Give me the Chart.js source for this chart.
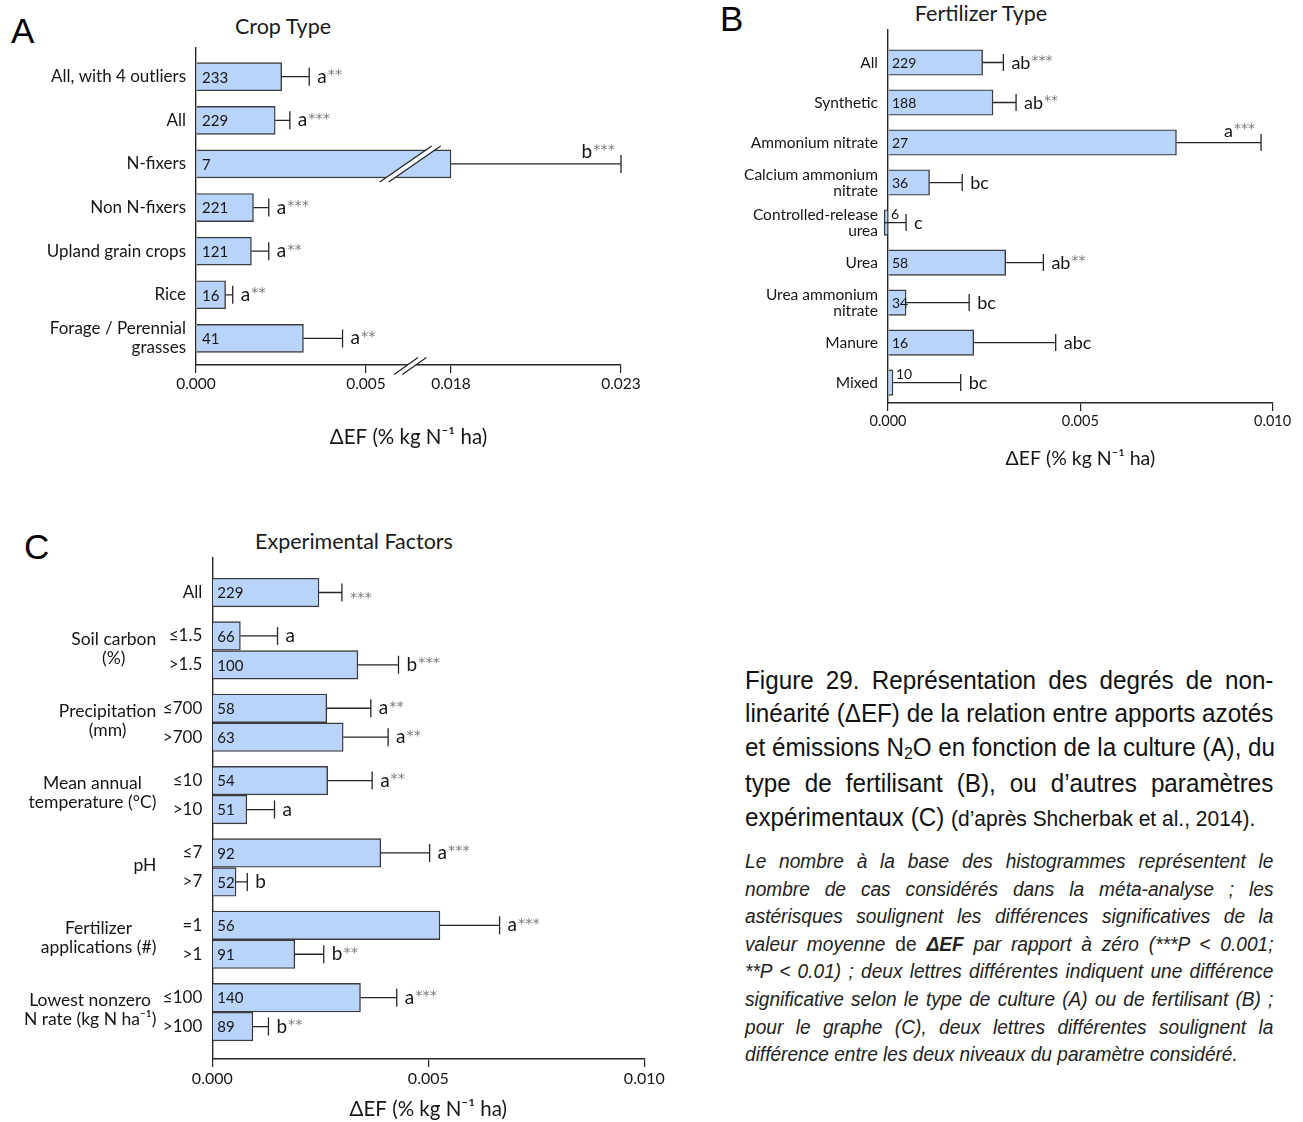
<!DOCTYPE html>
<html lang="fr">
<head>
<meta charset="utf-8">
<title>ΔEF par type de culture, de fertilisant et facteurs expérimentaux</title>
<script src="https://cdn.jsdelivr.net/npm/chart.js@4.4.1/dist/chart.umd.min.js"></script>
<style>
  html, body { margin: 0; padding: 0; background: #fff; }
  body { position: relative; width: 1303px; height: 1122px; overflow: hidden; color: #1a1a1a; font-family: Lato, sans-serif; }
  canvas { position: absolute; }
  .panel { position: absolute; font-family: 'Liberation Sans', Arial, sans-serif; font-size: 35px; line-height: 1; color: #000; }
  .ptitle { position: absolute; font-family: Lato, sans-serif; font-size: 21.5px; line-height: 1; white-space: nowrap; transform: translateX(-50%); color: #1a1a1a; }
  /* condensed caption: Arial metrics squeezed to a narrower cut */
  .caption { position: absolute; left: 745px; width: 567px; transform: scaleX(0.932); transform-origin: 0 0; color: #111; font-family: 'Liberation Sans', Arial, sans-serif; }
  .caption .j { text-align: justify; text-align-last: justify; white-space: nowrap; }
  .caption .l { text-align: left; white-space: nowrap; }
  #cap1 { top: 664px; font-size: 26px; line-height: 33.4px; }
  #cap2 { top: 847px; font-size: 20.5px; line-height: 27.6px; font-style: italic; color: #222; }
  .small { font-size: 22.5px; }
  .sub { font-size: 17px; position: relative; top: 3px; }
</style>
</head>
<body>

<div class="panel" style="left:11px;top:13px">A</div>
<div class="panel" style="left:720px;top:1px">B</div>
<div class="panel" style="left:24px;top:529px">C</div>

<div class="ptitle" style="left:283px;top:16px">Crop Type</div>
<div class="ptitle" style="left:981px;top:3px">Fertilizer Type</div>
<div class="ptitle" style="left:354px;top:531px">Experimental Factors</div>

<canvas id="cropChart" width="650" height="460" style="left:0;top:0"></canvas>
<canvas id="fertChart" width="603" height="480" style="left:700px;top:0"></canvas>
<canvas id="factorChart" width="680" height="602" style="left:0;top:520px"></canvas>

<div class="caption" id="cap1">
  <div class="j">Figure 29. Représentation des degrés de non-</div>
  <div class="j">linéarité (ΔEF) de la relation entre apports azotés</div>
  <div class="j">et émissions N<span class="sub">2</span>O en fonction de la culture (A), du</div>
  <div class="j">type de fertilisant (B), ou d’autres paramètres</div>
  <div class="l">expérimentaux (C) <span class="small">(d’après Shcherbak et al., 2014).</span></div>
</div>
<div class="caption" id="cap2">
  <div class="j">Le nombre à la base des histogrammes représentent le</div>
  <div class="j">nombre de cas considérés dans la méta-analyse ; les</div>
  <div class="j">astérisques soulignent les différences significatives de la</div>
  <div class="j">valeur moyenne <span style="font-style:normal">de</span> <b>ΔEF</b> par rapport à zéro (***P &lt; 0.001;</div>
  <div class="j">**P &lt; 0.01) ; deux lettres différentes indiquent une différence</div>
  <div class="j">significative selon le type de culture (A) ou de fertilisant (B) ;</div>
  <div class="j">pour le graphe (C), deux lettres différentes soulignent la</div>
  <div class="l">différence entre les deux niveaux du paramètre considéré.</div>
</div>

<script>
// ---------- A: crop type ----------
const cropLabels = [['All, with 4 outliers'], ['All'], ['N-fixers'], ['Non N-fixers'], ['Upland grain crops'], ['Rice'], ['Forage / Perennial', 'grasses']];
const cropMean   = [0.00252, 0.00233, 0.018, 0.00169, 0.00163, 0.00087, 0.00316];
const cropUpper  = [0.00333, 0.00276, 0.023, 0.00214, 0.00214, 0.00108, 0.00431];
const cropN      = [233, 229, 7, 221, 121, 16, 41];
const cropLetters = ['a', 'a', 'b', 'a', 'a', 'a', 'a'];
const cropStars   = ['**', '***', '***', '***', '**', '**', '**'];
const cropTicks   = [0, 0.005, 0.018, 0.023];
// broken axis: values up to cropBreakLow are drawn to scale, the stretch
// between cropBreakLow and cropBreakHigh is cut out
const cropBreakLow  = 0.0075;
const cropBreakHigh = 0.018;

// ---------- B: fertilizer type ----------
const fertLabels = [['All'], ['Synthetic'], ['Ammonium nitrate'], ['Calcium ammonium', 'nitrate'], ['Controlled-release', 'urea'], ['Urea'], ['Urea ammonium', 'nitrate'], ['Manure'], ['Mixed']];
const fertMean   = [0.00246, 0.00273, 0.0075, 0.00108, -0.0001, 0.00306, 0.00047, 0.00223, 0.00013];
const fertUpper  = [0.00300, 0.00333, 0.0097, 0.00193, 0.00047, 0.00404, 0.00211, 0.00436, 0.00189];
const fertN      = [229, 188, 27, 36, 6, 58, 34, 16, 10];
const fertLetters = ['ab', 'ab', 'a', 'bc', 'c', 'ab', 'bc', 'abc', 'bc'];
const fertStars   = ['***', '**', '***', '', '', '**', '', '', ''];
const fertTicks   = [0, 0.005, 0.010];

// ---------- C: experimental factors ----------
const factorGroups = [[], ['Soil carbon', '(%)'], ['Precipitation', '(mm)'], ['Mean annual', 'temperature (°C)'], ['pH'], ['Fertilizer', 'applications (#)'], ['Lowest nonzero', 'N rate (kg N ha⁻¹)']];
const factorLevels = ['All', '≤1.5', '>1.5', '≤700', '>700', '≤10', '>10', '≤7', '>7', '=1', '>1', '≤100', '>100'];
const factorGroupOf = [0, 1, 1, 2, 2, 3, 3, 4, 4, 5, 5, 6, 6];
const factorMean  = [0.00247, 0.00065, 0.00337, 0.00265, 0.00303, 0.00267, 0.00080, 0.00390, 0.00055, 0.00527, 0.00191, 0.00343, 0.00094];
const factorUpper = [0.00300, 0.00151, 0.00431, 0.00367, 0.00407, 0.00370, 0.00144, 0.00503, 0.00081, 0.00665, 0.00258, 0.00427, 0.00130];
const factorN     = [229, 66, 100, 58, 63, 54, 51, 92, 52, 56, 91, 140, 89];
const factorLetters = ['', 'a', 'b', 'a', 'a', 'a', 'a', 'a', 'b', 'a', 'b', 'a', 'b'];
const factorStars   = ['***', '', '***', '**', '**', '**', '', '***', '', '***', '**', '***', '**'];
const factorTicks   = [0, 0.005, 0.010];

// ---------- shared styling ----------
const FONT = 'Lato, sans-serif';
const STAR_FONT = '"DejaVu Sans", sans-serif';
const INK = '#161616';
const STAR = '#7a7a7a';
const AXIS = '#262626';
const BAR_FILL = '#b9d4fb';
const BAR_EDGE = '#3c3c3c';
const AXIS_TITLE = 'ΔEF (% kg N⁻¹ ha)';

function drawTag(ctx, xu, yc, letter, stars, limit, o) {
  const lf = o.letterSize + 'px ' + FONT, sf = o.starSize + 'px ' + STAR_FONT;
  ctx.font = lf; const lw = letter ? ctx.measureText(letter).width : 0;
  ctx.font = sf; const sw = stars ? ctx.measureText(stars).width : 0;
  const gap = letter && stars ? 1 : 0;
  let x = xu + 8, base = yc + 6;
  if (x + lw + gap + sw > limit) { x = xu - 6 - (lw + gap + sw); base = yc - 6; }
  ctx.textAlign = 'left';
  ctx.textBaseline = 'alphabetic';
  if (letter) { ctx.font = lf; ctx.fillStyle = INK; ctx.fillText(letter, x, base); }
  if (stars) { ctx.font = sf; ctx.fillStyle = STAR; ctx.fillText(stars, x + lw + gap, letter ? base - 3.5 : base + 3); }
}

// error whiskers, sample sizes and significance letters
const marks = o => ({
  id: 'marks',
  afterDatasetsDraw(chart) {
    const ctx = chart.ctx, xs = chart.scales.x;
    const toScale = o.toScale || (v => v);
    const x0 = xs.getPixelForValue(0);
    chart.getDatasetMeta(0).data.forEach((bar, i) => {
      const yc = bar.y, xm = bar.x;
      const xu = xs.getPixelForValue(toScale(o.upper[i]));
      ctx.save();
      ctx.strokeStyle = AXIS; ctx.lineWidth = 1.3;
      ctx.beginPath();
      ctx.moveTo(xm, yc); ctx.lineTo(xu, yc);
      ctx.moveTo(xu, yc - o.cap); ctx.lineTo(xu, yc + o.cap);
      ctx.stroke();
      // number of cases, at the base of the bar (above it when the bar is too short)
      ctx.font = o.nSize + 'px ' + FONT; ctx.fillStyle = INK;
      ctx.textAlign = 'left'; ctx.textBaseline = 'middle';
      const t = String(o.n[i]);
      if (xm - x0 >= 12) ctx.fillText(t, x0 + o.nInset, yc + 1);
      else ctx.fillText(t, Math.max(xm, x0) + 3, yc - 8);
      drawTag(ctx, xu, yc, o.letters[i], o.stars[i], chart.chartArea.right + 15, o);
      ctx.restore();
    });
  }
});

function hbar(id, o) {
  const cv = document.getElementById(id);
  const W = cv.width, H = cv.height;
  const toScale = o.toScale || (v => v);
  return new Chart(cv, {
    type: 'bar',
    data: {
      datasets: [{
        data: o.mean.map((m, i) => ({ x: toScale(m), y: o.pos[i] })),
        backgroundColor: BAR_FILL,
        borderColor: BAR_EDGE,
        borderWidth: 1.4,
        borderSkipped: 'start',
        barThickness: o.barThickness,
        clip: false
      }]
    },
    options: {
      indexAxis: 'y',
      responsive: false,
      animation: false,
      events: [],
      layout: { padding: { top: o.area.top, right: W - o.area.right, left: 0, bottom: 0 } },
      plugins: { legend: { display: false }, tooltip: { enabled: false }, title: { display: false } },
      scales: {
        x: {
          type: 'linear',
          min: 0,
          max: toScale(o.xTicks[o.xTicks.length - 1]),
          offset: false,
          afterBuildTicks: s => { s.ticks = o.xTicks.map(v => ({ value: toScale(v) })); },
          afterFit: s => { s.height = H - o.area.bottom; },
          ticks: {
            callback: (v, i) => o.xTicks[i].toFixed(3),
            font: { family: FONT, size: o.xTickSize }, color: INK,
            padding: o.xTickPad, maxRotation: 0, autoSkip: false
          },
          grid: { display: true, drawOnChartArea: false, drawTicks: true, tickLength: 8, color: AXIS, lineWidth: 1.2, offset: false },
          border: { display: true, color: AXIS, width: 1.4 },
          title: {
            display: true, text: AXIS_TITLE, color: INK,
            font: { family: FONT, size: o.titleSize, lineHeight: 1.2 },
            padding: { top: 0, bottom: o.titlePad }
          }
        },
        y: {
          type: 'linear',
          reverse: true,
          offset: false,
          min: o.yMin,
          max: o.yMax,
          afterBuildTicks: s => { s.ticks = o.pos.map(p => ({ value: p })); },
          afterFit: s => { s.width = o.area.left; },
          ticks: {
            callback: (v, i) => o.labels[i],
            font: { family: FONT, size: o.yTickSize, lineHeight: o.yLineHeight }, color: INK,
            padding: 10, autoSkip: false
          },
          grid: { display: false, drawTicks: false, offset: false },
          border: { display: true, color: AXIS, width: 1.4 }
        }
      }
    },
    plugins: [marks(o)].concat(o.extra || [])
  });
}

// ---------- A ----------
const cropToScale = v => (v >= cropBreakHigh ? v - (cropBreakHigh - cropBreakLow) : v);
const cropBreakMark = 0.0063; // where the break slashes sit on the drawn scale

const cropBreaks = {
  id: 'cropBreaks',
  afterDraw(chart) {
    const ctx = chart.ctx, xs = chart.scales.x, area = chart.chartArea;
    const xb = xs.getPixelForValue(cropBreakMark);
    const slash = (yc, hx, hy, sep) => {
      ctx.fillStyle = '#fff';
      ctx.beginPath();
      ctx.moveTo(xb - sep - hx, yc + hy); ctx.lineTo(xb - sep + hx, yc - hy);
      ctx.lineTo(xb + sep + hx, yc - hy); ctx.lineTo(xb + sep - hx, yc + hy);
      ctx.closePath(); ctx.fill();
      ctx.strokeStyle = AXIS; ctx.lineWidth = 1.3;
      ctx.beginPath();
      ctx.moveTo(xb - sep - hx, yc + hy); ctx.lineTo(xb - sep + hx, yc - hy);
      ctx.moveTo(xb + sep - hx, yc + hy); ctx.lineTo(xb + sep + hx, yc - hy);
      ctx.stroke();
    };
    ctx.save();
    slash(area.bottom + 1, 12, 8.5, 4.2);
    chart.getDatasetMeta(0).data.forEach((bar, i) => {
      if (cropMean[i] > cropBreakLow) slash(bar.y, 26, 18, 4.5);
    });
    ctx.restore();
  }
};

hbar('cropChart', {
  labels: cropLabels, mean: cropMean, upper: cropUpper, n: cropN,
  letters: cropLetters, stars: cropStars, xTicks: cropTicks,
  pos: cropLabels.map((_, i) => i),
  toScale: cropToScale,
  yMin: -0.665, yMax: 6.61,
  area: { left: 196, right: 621, top: 47.7, bottom: 365 },
  barThickness: 28, cap: 9,
  xTickSize: 15.5, xTickPad: 2, titleSize: 20.5, titlePad: 10,
  yTickSize: 17, yLineHeight: '19px',
  nSize: 15, nInset: 6, letterSize: 19, starSize: 14.5,
  extra: [cropBreaks]
});

// ---------- B ----------
hbar('fertChart', {
  labels: fertLabels, mean: fertMean, upper: fertUpper, n: fertN,
  letters: fertLetters, stars: fertStars, xTicks: fertTicks,
  pos: fertLabels.map((_, i) => i),
  yMin: -0.83, yMax: 8.51,
  area: { left: 188, right: 572.6, top: 29.3, bottom: 403 },
  barThickness: 25.5, cap: 8.5,
  xTickSize: 14.5, xTickPad: 1.5, titleSize: 19.5, titlePad: 10,
  yTickSize: 15.5, yLineHeight: '16px',
  nSize: 14, nInset: 4, letterSize: 18, starSize: 14
});

// ---------- C ----------
// rows of one factor sit together, each new factor starts half a row lower
const factorPos = factorLevels.map((_, i) => i + 0.5 * factorGroupOf[i]);

const factorNames = {
  id: 'factorNames',
  afterDraw(chart) {
    const ctx = chart.ctx, ys = chart.scales.y, area = chart.chartArea;
    const right = area.left - 56;
    ctx.save();
    ctx.font = '17.5px ' + FONT; ctx.fillStyle = INK;
    ctx.textAlign = 'center'; ctx.textBaseline = 'middle';
    factorGroups.forEach((lines, g) => {
      if (!lines.length) return;
      const rows = factorPos.filter((_, i) => factorGroupOf[i] === g);
      const yc = rows.reduce((s, p) => s + ys.getPixelForValue(p), 0) / rows.length - 2;
      const w = Math.max(...lines.map(t => ctx.measureText(t).width));
      lines.forEach((t, k) => ctx.fillText(t, right - w / 2, yc + (k - (lines.length - 1) / 2) * 19));
    });
    ctx.restore();
  }
};

hbar('factorChart', {
  labels: factorLevels, mean: factorMean, upper: factorUpper, n: factorN,
  letters: factorLetters, stars: factorStars, xTicks: factorTicks,
  pos: factorPos,
  yMin: -1.21, yMax: 16.12,
  area: { left: 212.3, right: 644.3, top: 37.5, bottom: 539 },
  barThickness: 28.6, cap: 9,
  xTickSize: 16, xTickPad: 2.5, titleSize: 20.5, titlePad: 0,
  yTickSize: 17, yLineHeight: '19px',
  nSize: 15, nInset: 5, letterSize: 19, starSize: 14.5,
  extra: [factorNames]
});
</script>
</body>
</html>
